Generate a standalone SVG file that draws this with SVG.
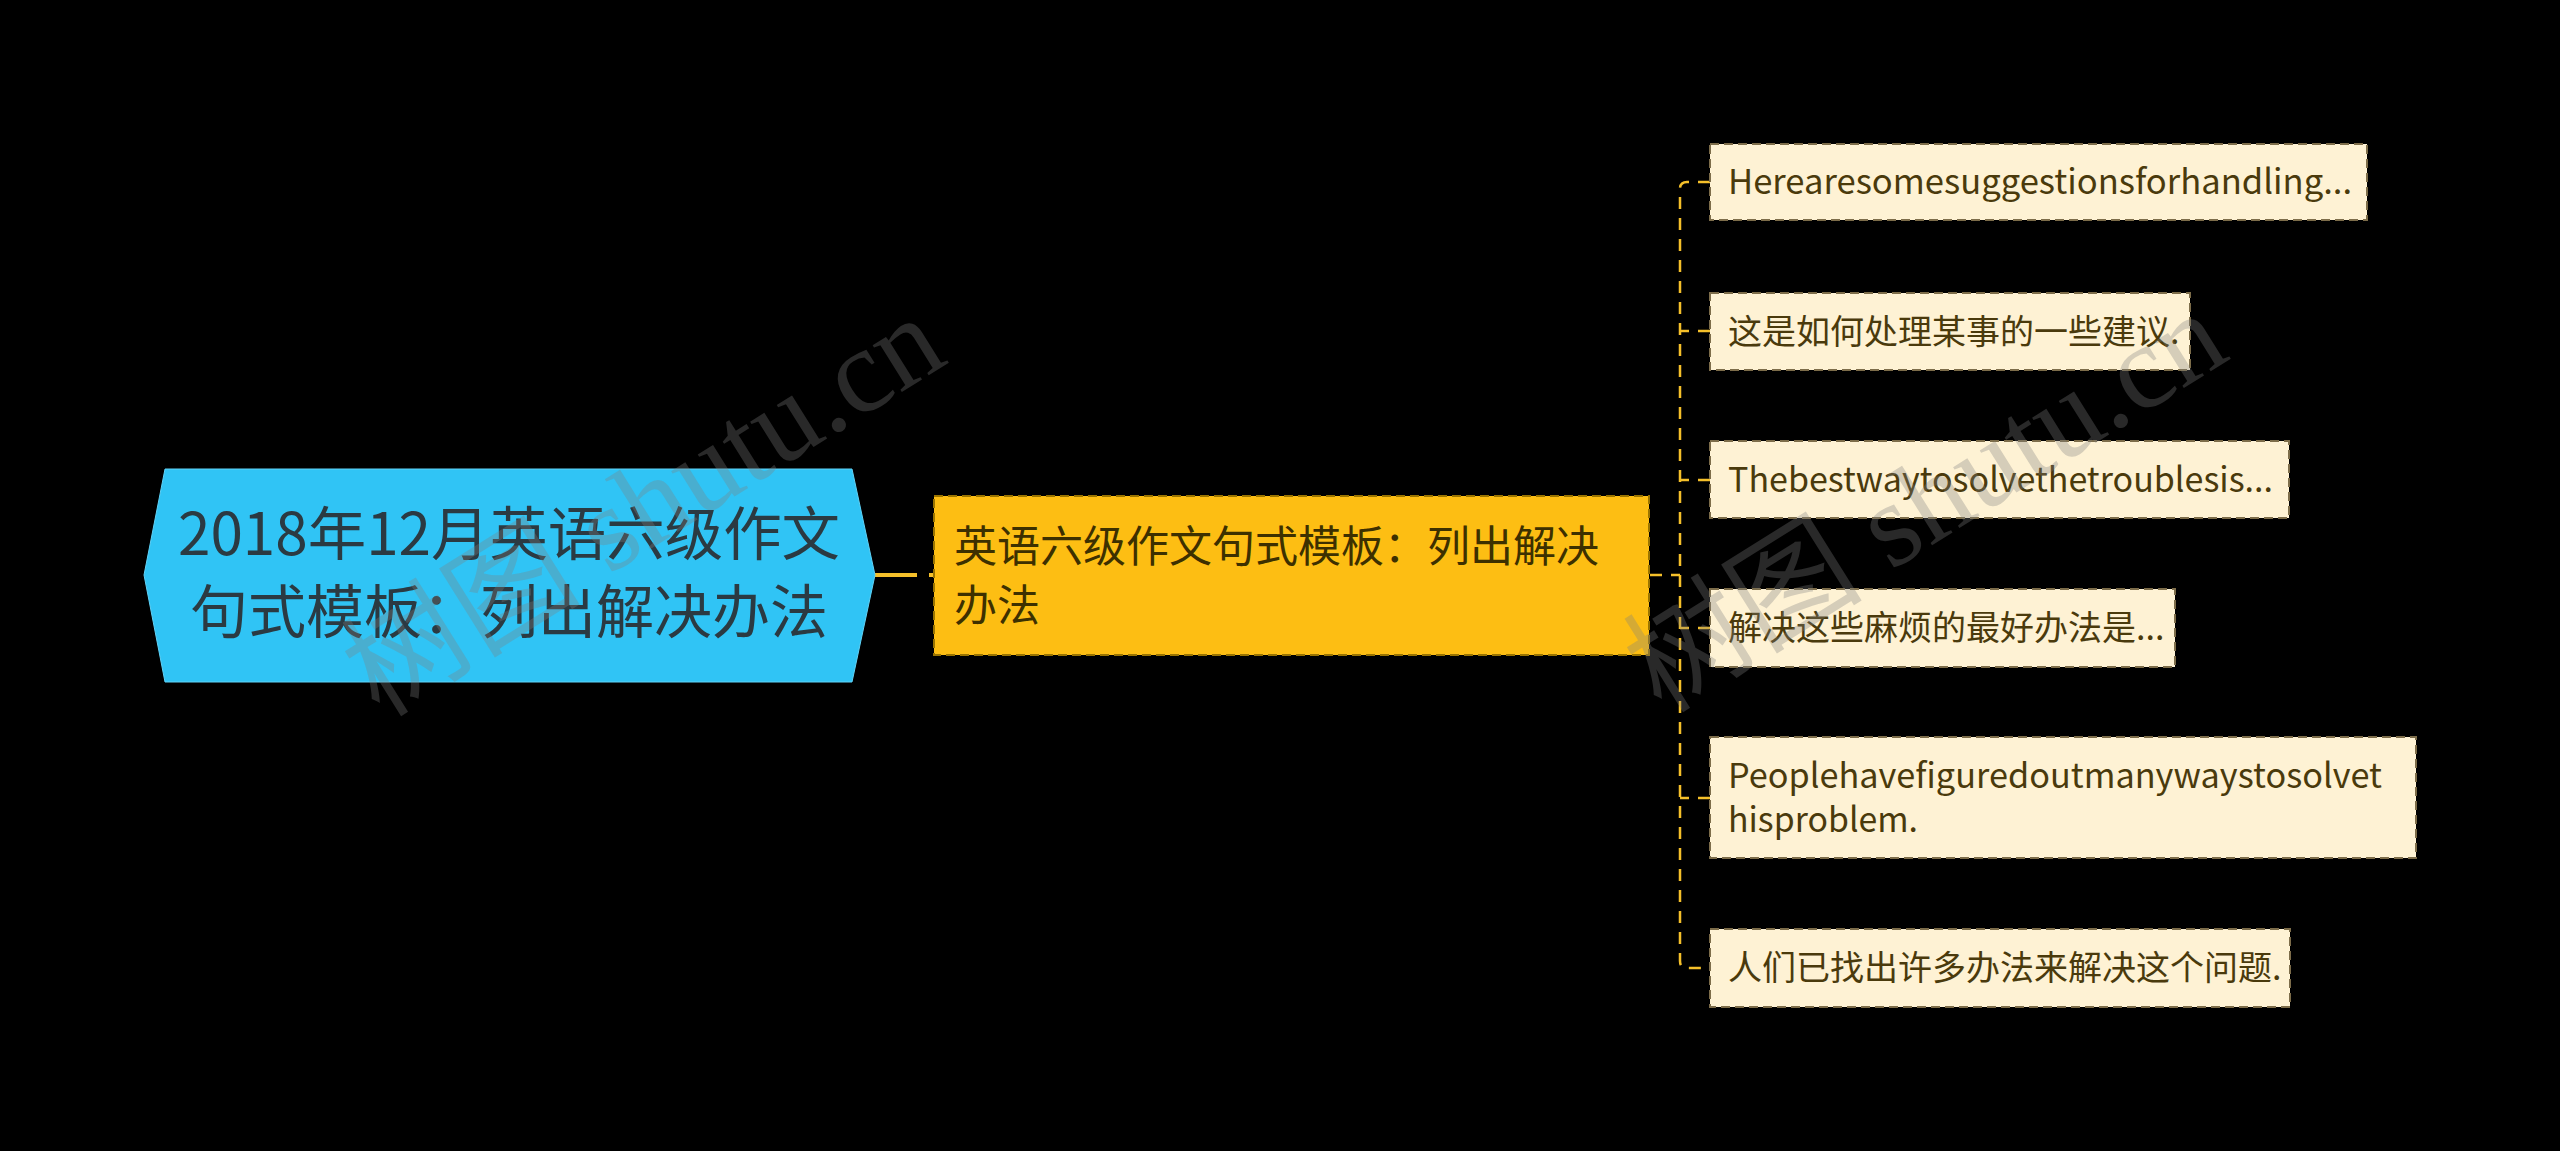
<svg xmlns="http://www.w3.org/2000/svg" width="2560" height="1151" viewBox="0 0 2560 1151">
<style>
.cjk{font-family:"Noto Sans CJK SC","Noto Sans",sans-serif;}
.root-t{font-size:58px;fill:#2b3a42;text-anchor:middle;}
.mid-t{font-size:43px;fill:#3d3000;}
.leaf-t{font-size:34px;fill:#4a3a0c;}
.leaf{fill:#fef2d4;stroke:#7d6d4a;stroke-width:2;stroke-dasharray:9 5;}
.mid{fill:#fdbe13;stroke:#9a7400;stroke-width:2;stroke-dasharray:9 5;}
.conn{fill:none;stroke:#f5c02a;stroke-width:2.5;stroke-dasharray:12 9;}
.wm{font-family:"Liberation Serif","Noto Sans CJK SC",serif;font-size:120px;fill:#808080;fill-opacity:0.32;text-anchor:middle;}
</style>
<rect x="0" y="0" width="2560" height="1151" fill="#000000"/>
<g id="connectors">
<path d="M875,575 H934" fill="none" stroke="#f5c02a" stroke-width="4" stroke-dasharray="42 12"/>
<path class="conn" d="M1650,575 H1680"/>
<path class="conn" d="M1710,182 H1687 Q1680,182 1680,189 V961 Q1680,968 1687,968 H1710"/>
<path class="conn" d="M1710,331 H1680"/>
<path class="conn" d="M1710,480 H1680"/>
<path class="conn" d="M1710,628 H1680"/>
<path class="conn" d="M1710,798 H1680"/>
</g>
<g id="root">
<polygon points="144,575 165,469 852,469 875,575 852,682 165,682" fill="#30c4f5" stroke="#5fd2f7" stroke-width="1"/>
<text class="cjk root-t" x="509" y="555" textLength="662" lengthAdjust="spacingAndGlyphs">2018年12月英语六级作文</text>
<text class="cjk root-t" x="509" y="633">句式模板：列出解决办法</text>
</g>
<g id="mid">
<rect class="mid" x="934" y="496" width="715" height="159"/>
<text class="cjk mid-t" x="954" y="562">英语六级作文句式模板：列出解决</text>
<text class="cjk mid-t" x="954" y="621">办法</text>
</g>
<g id="leaf1">
<rect class="leaf" x="1710" y="144" width="657" height="76"/>
<text class="cjk leaf-t" x="1728" y="194" textLength="624" lengthAdjust="spacingAndGlyphs">Herearesomesuggestionsforhandling...</text>
</g>
<g id="leaf2">
<rect class="leaf" x="1710" y="293" width="480" height="77"/>
<text class="cjk leaf-t" x="1728" y="344">这是如何处理某事的一些建议.</text>
</g>
<g id="leaf3">
<rect class="leaf" x="1710" y="441" width="579" height="77"/>
<text class="cjk leaf-t" x="1728" y="492" textLength="545" lengthAdjust="spacingAndGlyphs">Thebestwaytosolvethetroublesis...</text>
</g>
<g id="leaf4">
<rect class="leaf" x="1710" y="589" width="465" height="78"/>
<text class="cjk leaf-t" x="1728" y="640">解决这些麻烦的最好办法是...</text>
</g>
<g id="leaf5">
<rect class="leaf" x="1710" y="737" width="706" height="121"/>
<text class="cjk leaf-t" x="1728" y="788" textLength="654" lengthAdjust="spacingAndGlyphs">Peoplehavefiguredoutmanywaystosolvet</text>
<text class="cjk leaf-t" x="1728" y="832" textLength="190" lengthAdjust="spacingAndGlyphs">hisproblem.</text>
</g>
<g id="leaf6">
<rect class="leaf" x="1710" y="929" width="580" height="78"/>
<text class="cjk leaf-t" x="1728" y="980">人们已找出许多办法来解决这个问题.</text>
</g>
<g id="watermarks">
<text class="wm" transform="translate(665,540) rotate(-32)">树图 shutu.cn</text>
<text class="wm" transform="translate(1947,536) rotate(-32)">树图 shutu.cn</text>
</g>
</svg>
